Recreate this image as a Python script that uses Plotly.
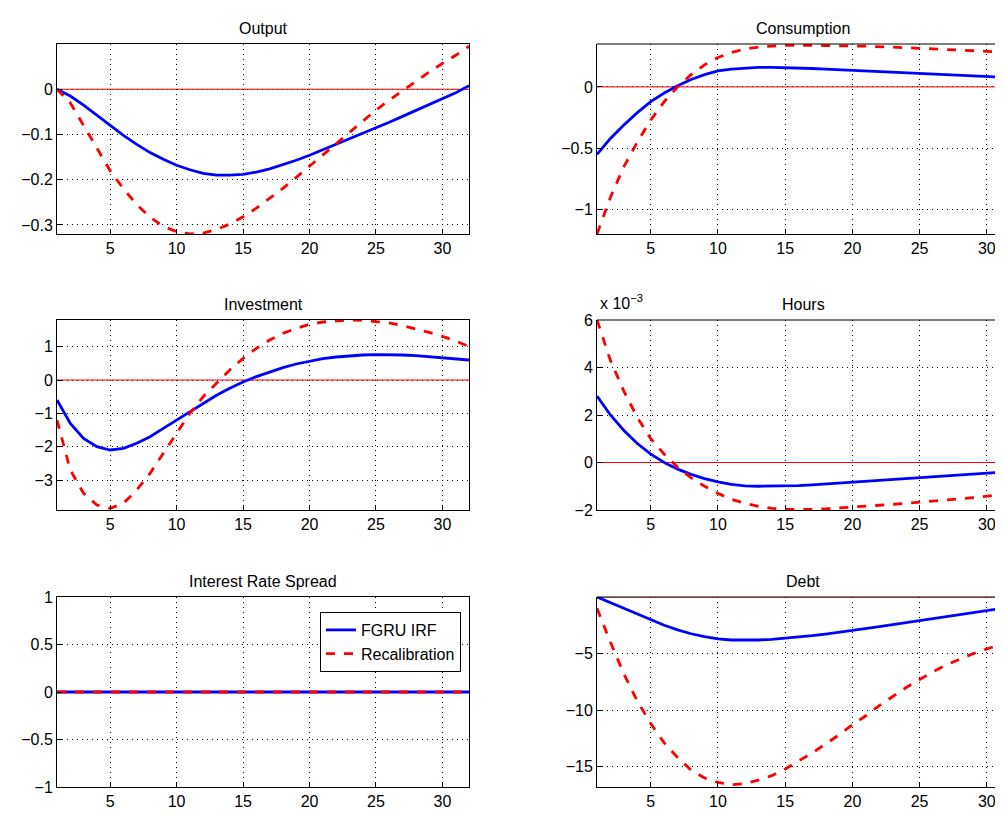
import plotly.graph_objects as go

x = list(range(1, 33))

output_fgru = [0, -0.015, -0.035, -0.058, -0.08, -0.102, -0.122, -0.14, -0.155, -0.168, -0.178, -0.186,
               -0.19, -0.19, -0.188, -0.183, -0.176, -0.167, -0.157, -0.146, -0.134, -0.122, -0.11, -0.098,
               -0.086, -0.073, -0.06, -0.047, -0.034, -0.021, -0.008, 0.008]
output_recal = [0, -0.03, -0.08, -0.13, -0.18, -0.22, -0.255, -0.283, -0.303, -0.315, -0.32, -0.318,
                -0.31, -0.298, -0.282, -0.263, -0.242, -0.219, -0.195, -0.17, -0.145, -0.12, -0.095, -0.07,
                -0.046, -0.024, -0.003, 0.018, 0.038, 0.057, 0.075, 0.095]
cons_fgru = [-0.55, -0.42, -0.31, -0.21, -0.12, -0.05, 0.01, 0.06, 0.1, 0.13, 0.145, 0.155, 0.16, 0.16,
             0.158, 0.154, 0.15, 0.145, 0.14, 0.135, 0.13, 0.125, 0.12, 0.115, 0.11, 0.105, 0.1, 0.095,
             0.09, 0.085, 0.08, 0.075]
cons_recal = [-1.2, -0.9, -0.65, -0.45, -0.27, -0.12, 0.0, 0.1, 0.18, 0.24, 0.28, 0.31, 0.325, 0.335,
              0.34, 0.34, 0.34, 0.338, 0.336, 0.334, 0.332, 0.33, 0.325, 0.32, 0.315, 0.31, 0.305, 0.3,
              0.295, 0.29, 0.285, 0.28]
inv_fgru = [-0.6, -1.3, -1.75, -2.0, -2.1, -2.05, -1.9, -1.7, -1.45, -1.2, -0.95, -0.7, -0.46, -0.25,
            -0.06, 0.1, 0.24, 0.37, 0.48, 0.57, 0.64, 0.69, 0.73, 0.75, 0.76, 0.76, 0.75, 0.73, 0.7, 0.67,
            0.63, 0.6]
inv_recal = [-1.2, -2.7, -3.4, -3.75, -3.85, -3.7, -3.3, -2.8, -2.2, -1.6, -1.0, -0.5, -0.1, 0.3, 0.65,
             0.95, 1.2, 1.4, 1.55, 1.67, 1.74, 1.78, 1.8, 1.79, 1.76, 1.71, 1.63, 1.54, 1.43, 1.31, 1.17, 1.0]
hours_fgru = [2.8, 2.0, 1.35, 0.8, 0.35, 0.0, -0.28, -0.5, -0.68, -0.82, -0.92, -0.98, -1.0, -1.0, -0.99,
              -0.97, -0.94, -0.9, -0.86, -0.82, -0.78, -0.74, -0.7, -0.66, -0.62, -0.58, -0.54, -0.5,
              -0.46, -0.43, -0.4, -0.37]
hours_recal = [6.0, 4.3, 3.0, 1.9, 1.0, 0.35, -0.2, -0.65, -1.0, -1.3, -1.55, -1.72, -1.85, -1.93, -1.97,
               -1.98, -1.97, -1.95, -1.92, -1.88, -1.84, -1.8, -1.76, -1.72, -1.68, -1.63, -1.58, -1.53,
               -1.48, -1.42, -1.36, -1.3]
spread_fgru = [0] * 32
spread_recal = [0] * 32
debt_fgru = [0, -0.5, -1.0, -1.5, -2.0, -2.5, -2.9, -3.25, -3.5, -3.7, -3.8, -3.82, -3.8, -3.74, -3.65,
             -3.55, -3.42, -3.28, -3.13, -2.97, -2.8, -2.62, -2.44, -2.26, -2.08, -1.9, -1.72, -1.55,
             -1.38, -1.2, -1.03, -0.85]
debt_recal = [-1, -4, -6.8, -9.2, -11.2, -12.9, -14.2, -15.3, -16.0, -16.4, -16.6, -16.5, -16.2, -15.8,
              -15.2, -14.5, -13.8, -13.0, -12.2, -11.3, -10.5, -9.6, -8.8, -8.0, -7.3, -6.6, -6.0, -5.5,
              -5.0, -4.6, -4.2, -3.9]

W, H = 1003, 816
OFF = 8  # page body margin in the browser
panels = [
    # title, fgru, recal, yrange, ticks, xdom(px), ydom(px)
    ("Output", output_fgru, output_recal, [-0.32, 0.1], [-0.3, -0.2, -0.1, 0], (57, 469), (44, 234)),
    ("Consumption", cons_fgru, cons_recal, [-1.2, 0.35], [-1, -0.5, 0], (597, 1003), (44, 234)),
    ("Investment", inv_fgru, inv_recal, [-3.9, 1.8], [-3, -2, -1, 0, 1], (57, 469), (320, 510)),
    ("Hours", hours_fgru, hours_recal, [-2, 6], [-2, 0, 2, 4, 6], (597, 1003), (320, 510)),
    ("Interest Rate Spread", spread_fgru, spread_recal, [-1, 1], [-1, -0.5, 0, 0.5, 1], (57, 469), (597, 787)),
    ("Debt", debt_fgru, debt_recal, [-16.8, 0], [-15, -10, -5], (597, 1003), (597, 787)),
]


def px_x(v):
    return (v - OFF) / W


def px_y(v):
    return 1 - (v - OFF) / H


fig = go.Figure()
font = dict(family="Liberation Sans, Arial", size=16, color="black")
ann = []
for i, (title, fg, rc, yr, yt, xd, yd) in enumerate(panels):
    n = "" if i == 0 else str(i + 1)
    right = xd[1] == 1003
    xrange = [1, 31.8] if right else [1, 32]
    xdom = [px_x(xd[0]), 1.0 if right else px_x(xd[1])]
    ydom = [px_y(yd[1]), px_y(yd[0])]
    fig.add_trace(go.Scatter(x=[1, 32], y=[0, 0], mode="lines", line=dict(color="red", width=1),
                             showlegend=False, xaxis="x" + n, yaxis="y" + n))
    fig.add_trace(go.Scatter(x=x, y=fg, mode="lines", line=dict(color="blue", width=2.8),
                             name="FGRU IRF", showlegend=(i == 4), xaxis="x" + n, yaxis="y" + n))
    fig.add_trace(go.Scatter(x=x, y=rc, mode="lines", line=dict(color="red", width=2.8, dash="dash"),
                             name="Recalibration", showlegend=(i == 4), xaxis="x" + n, yaxis="y" + n))
    common = dict(showline=True, linecolor="black", linewidth=1, mirror=not right, ticks="inside",
                  ticklen=5, tickcolor="black", showgrid=True, gridcolor="black", griddash="1px,4px",
                  gridwidth=1, zeroline=False, tickfont=font)
    fig.layout["xaxis" + n] = dict(domain=xdom, range=xrange, tickvals=[5, 10, 15, 20, 25, 30],
                                   anchor="y" + n, **common)
    fig.layout["yaxis" + n] = dict(domain=ydom, range=yr, tickvals=yt, anchor="x" + n, **common)
    if right:
        fig.add_shape(type="line", xref="x" + n + " domain", yref="y" + n + " domain",
                      x0=0, x1=1, y0=1, y1=1, line=dict(color="black", width=1))
    ann.append(dict(text=title, x=px_x(xd[0] + 206), y=px_y(yd[0] - 5), xref="paper", yref="paper",
                    showarrow=False, xanchor="center", yanchor="bottom", font=font))

ann.append(dict(text="x 10<sup>−3</sup>", x=px_x(598), y=px_y(314), xref="paper", yref="paper",
                showarrow=False, xanchor="left", yanchor="bottom", font=font))

fig.update_layout(
    width=W, height=H, margin=dict(l=0, r=0, t=0, b=0, autoexpand=False),
    plot_bgcolor="white", paper_bgcolor="white", font=font, annotations=ann,
    legend=dict(x=px_x(461), y=px_y(612), xanchor="right", yanchor="top", bgcolor="white",
                bordercolor="black", borderwidth=1, font=font),
)
fig.write_html("out.html")
